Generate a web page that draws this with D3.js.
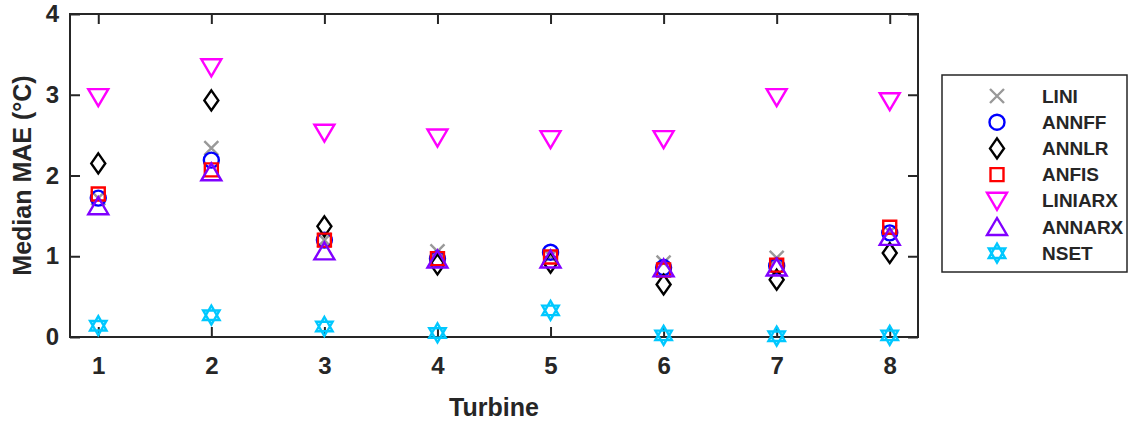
<!DOCTYPE html>
<html>
<head>
<meta charset="utf-8">
<script src="https://cdn.jsdelivr.net/npm/d3@7"></script>
<style>
  body { margin: 0; background: #fff; }
  text { font-family: "Liberation Sans", Arial, sans-serif; font-weight: bold; fill: #262626; }
</style>
</head>
<body>
<svg id="chart" width="1128" height="421"></svg>
<script>
// turbines on the x axis
var turbines = [1, 2, 3, 4, 5, 6, 7, 8];
var yTicks = [0, 1, 2, 3, 4];

// median MAE per method, one value per turbine
var lini    = [1.72, 2.34, 1.20, 1.06, 1.00, 0.92, 0.98, 1.30];
var annff   = [1.72, 2.19, 1.20, 0.97, 1.05, 0.86, 0.88, 1.29];
var annlr   = [2.15, 2.93, 1.37, 0.90, 0.92, 0.65, 0.71, 1.04];
var anfis   = [1.77, 2.07, 1.20, 0.97, 0.99, 0.83, 0.89, 1.36];
var liniarx = [2.97, 3.34, 2.53, 2.47, 2.45, 2.45, 2.97, 2.92];
var annarx  = [1.62, 2.04, 1.06, 0.96, 0.96, 0.85, 0.86, 1.24];
var nset    = [0.14, 0.27, 0.13, 0.05, 0.33, 0.02, 0.01, 0.02];

var seriesNames = ["LINI", "ANNFF", "ANNLR", "ANFIS", "LINIARX", "ANNARX", "NSET"];
var seriesVals = [lini, annff, annlr, anfis, liniarx, annarx, nset];
var colors = ["#999999", "#0000ff", "#000000", "#ff0000", "#ff00ff", "#8000ff", "#00c8ff"];
var shapes = ["x", "circle", "diamond", "square", "tridown", "triup", "hexagram"];

// marker outlines, centred on 0,0
function markerPath(shape) {
  var p = d3.path();
  if (shape == "x") {
    p.moveTo(-7, -7); p.lineTo(7, 7);
    p.moveTo(-7, 7); p.lineTo(7, -7);
  } else if (shape == "circle") {
    p.moveTo(7.5, 0); p.arc(0, 0, 7.5, 0, 2 * Math.PI);
  } else if (shape == "diamond") {
    p.moveTo(0, -10); p.lineTo(7, 0); p.lineTo(0, 10); p.lineTo(-7, 0); p.closePath();
  } else if (shape == "square") {
    p.rect(-6.5, -6.5, 13, 13);
  } else if (shape == "tridown") {
    p.moveTo(-10, -8); p.lineTo(10, -8); p.lineTo(0, 9); p.closePath();
  } else if (shape == "triup") {
    p.moveTo(-10, 8); p.lineTo(10, 8); p.lineTo(0, -9); p.closePath();
  } else if (shape == "hexagram") {
    var r = 9.5;
    p.moveTo(0, -r); p.lineTo(r * 0.866, r * 0.5); p.lineTo(-r * 0.866, r * 0.5); p.closePath();
    p.moveTo(0, r); p.lineTo(r * 0.866, -r * 0.5); p.lineTo(-r * 0.866, -r * 0.5); p.closePath();
  }
  return p.toString();
}

var svg = d3.select("#chart");
var mLeft = 70, mRight = 918, mTop = 14, mBottom = 337;

var x = d3.scaleLinear().domain([0.75, 8.25]).range([mLeft, mRight]);
var y = d3.scaleLinear().domain([0, 4]).range([mBottom, mTop]);

// axes with inward ticks on all four sides
var axColor = "#262626";
function styleAxis(g) {
  g.select(".domain").remove();
  g.selectAll("line").attr("stroke", axColor).attr("stroke-width", 2);
  g.selectAll("text").attr("font-size", 24).attr("fill", axColor)
    .style("font-family", "'Liberation Sans', Arial, sans-serif").style("font-weight", "bold");
}

svg.append("g").attr("transform", "translate(0," + mBottom + ")")
  .call(d3.axisBottom(x).tickValues(turbines).tickSize(-10).tickPadding(20).tickFormat(d3.format("d")))
  .call(styleAxis);
svg.append("g").attr("transform", "translate(0," + mTop + ")")
  .call(d3.axisTop(x).tickValues(turbines).tickSize(-10).tickFormat(""))
  .call(styleAxis);
svg.append("g").attr("transform", "translate(" + mLeft + ",0)")
  .call(d3.axisLeft(y).tickValues(yTicks).tickSize(-10).tickPadding(11).tickFormat(d3.format("d")))
  .call(styleAxis);
svg.append("g").attr("transform", "translate(" + mRight + ",0)")
  .call(d3.axisRight(y).tickValues(yTicks).tickSize(-10).tickFormat(""))
  .call(styleAxis);

svg.append("rect")
  .attr("x", mLeft).attr("y", mTop)
  .attr("width", mRight - mLeft).attr("height", mBottom - mTop)
  .attr("fill", "none").attr("stroke", axColor).attr("stroke-width", 2);

// markers
seriesVals.forEach(function(vals, i) {
  svg.append("g").selectAll("path").data(vals).enter().append("path")
    .attr("d", markerPath(shapes[i]))
    .attr("transform", function(d, j) { return "translate(" + x(turbines[j]) + "," + y(d) + ")"; })
    .attr("fill", "none")
    .attr("stroke", colors[i])
    .attr("stroke-width", 2.4);
});

// axis titles
svg.append("text")
  .attr("x", (mLeft + mRight) / 2).attr("y", 416)
  .attr("text-anchor", "middle").attr("font-size", 25)
  .text("Turbine");
svg.append("text")
  .attr("transform", "translate(31," + ((mTop + mBottom) / 2) + ") rotate(-90)")
  .attr("text-anchor", "middle").attr("font-size", 25)
  .text("Median MAE (°C)");

// legend
var lg = svg.append("g");
lg.append("rect")
  .attr("x", 942).attr("y", 75).attr("width", 185).attr("height", 197)
  .attr("fill", "#fff").attr("stroke", axColor).attr("stroke-width", 1.5);
seriesNames.forEach(function(name, i) {
  var ly = 96 + i * 26.2;
  lg.append("path")
    .attr("d", markerPath(shapes[i]))
    .attr("transform", "translate(997," + ly + ")")
    .attr("fill", "none").attr("stroke", colors[i]).attr("stroke-width", 2.4);
  lg.append("text")
    .attr("x", 1042).attr("y", ly).attr("dy", "0.35em")
    .attr("font-size", 19).attr("fill", "#000")
    .text(name);
});
</script>
</body>
</html>
